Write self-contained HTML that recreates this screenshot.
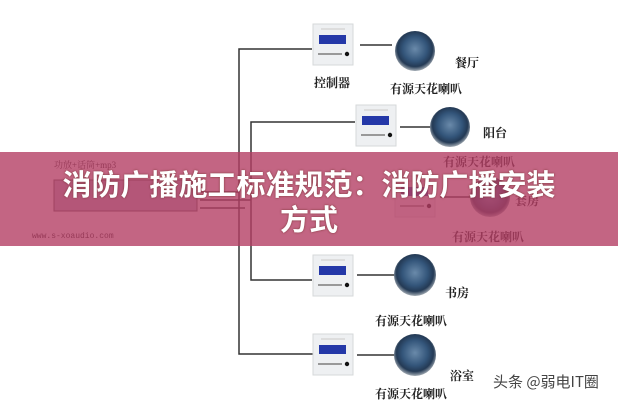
<!DOCTYPE html>
<html><head><meta charset="utf-8"><style>
body{margin:0;width:618px;height:400px;overflow:hidden;background:#fff;font-family:"Liberation Serif","Noto Serif CJK SC",serif;position:relative}
.t{position:absolute;font-size:12px;color:#222;font-weight:bold;white-space:nowrap}
.banner{position:absolute;left:0;top:152px;width:618px;height:94px;background:rgba(180,62,100,0.8)}
.title{position:absolute;left:0;width:618px;text-align:center;color:#fff;font:bold 29px/35px "Noto Sans CJK SC",sans-serif;top:166px;text-shadow:0 0 2px #733}
</style></head><body>
<svg width="618" height="400" style="position:absolute;left:0;top:0">
<defs>
<radialGradient id="sp" cx="50%" cy="45%" r="55%"><stop offset="0" stop-color="#6a8aaa"/><stop offset="0.55" stop-color="#33557a"/><stop offset="0.8" stop-color="#243a55"/><stop offset="1" stop-color="#a4adb5"/></radialGradient>
<g id="ctl"><rect width="40" height="41" fill="#eef0f2" stroke="#d6d8da"/><rect x="6" y="11" width="27" height="9" fill="#2438a8"/><rect x="5" y="29" width="24" height="2" fill="#999"/><circle cx="34" cy="30" r="2.2" fill="#111"/><rect x="8" y="4" width="24" height="2" fill="#ddd"/></g>
</defs>
<g stroke="#333" stroke-width="1.5" fill="none">
<path d="M312 49H239V354H313"/>
<path d="M355 122H251V280H312"/>
<path d="M200 192H239M200 200H251M200 208H245"/>
<path d="M360 45H392M400 127H430M357 275H395M357 355H395M440 197H470"/>
</g>
<use href="#ctl" x="313" y="24"/>
<use href="#ctl" x="356" y="105"/>
<use href="#ctl" x="395" y="176"/>
<use href="#ctl" x="313" y="255"/>
<use href="#ctl" x="313" y="334"/>
<circle cx="415" cy="51" r="20" fill="url(#sp)"/>
<circle cx="450" cy="127" r="20" fill="url(#sp)"/>
<circle cx="490" cy="197" r="20" fill="url(#sp)"/>
<circle cx="415" cy="275" r="21" fill="url(#sp)"/>
<circle cx="415" cy="355" r="21" fill="url(#sp)"/>
<rect x="54" y="180" width="143" height="31" fill="#b4b4c8" stroke="#555"/>
</svg>
<div class="t" style="left:455px;top:54px">餐厅</div>
<div class="t" style="left:314px;top:74px">控制器</div>
<div class="t" style="left:390px;top:80px">有源天花喇叭</div>
<div class="t" style="left:483px;top:124px">阳台</div>
<div class="t" style="left:443px;top:153px">有源天花喇叭</div>
<div class="t" style="left:515px;top:192px">套房</div>
<div class="t" style="left:452px;top:228px">有源天花喇叭</div>
<div class="t" style="left:445px;top:284px">书房</div>
<div class="t" style="left:375px;top:312px">有源天花喇叭</div>
<div class="t" style="left:450px;top:367px">浴室</div>
<div class="t" style="left:375px;top:389px;line-height:10px">有源天花喇叭</div>
<div class="t" style="left:54px;top:158px;font-size:9px;font-weight:normal">功放+话筒+mp3</div>
<div class="t" style="left:32px;top:232px;font-size:8px;font-weight:normal;font-family:'Liberation Mono',monospace">www.s-xoaudio.com</div>
<div class="banner"></div>
<div class="title">消防广播施工标准规范：消防广播安装<br>方式</div>
<div class="t" style="left:493px;top:371px;font:normal 15px 'Noto Sans CJK SC',sans-serif;color:#444">头条 @弱电IT圈</div>
</body></html>
